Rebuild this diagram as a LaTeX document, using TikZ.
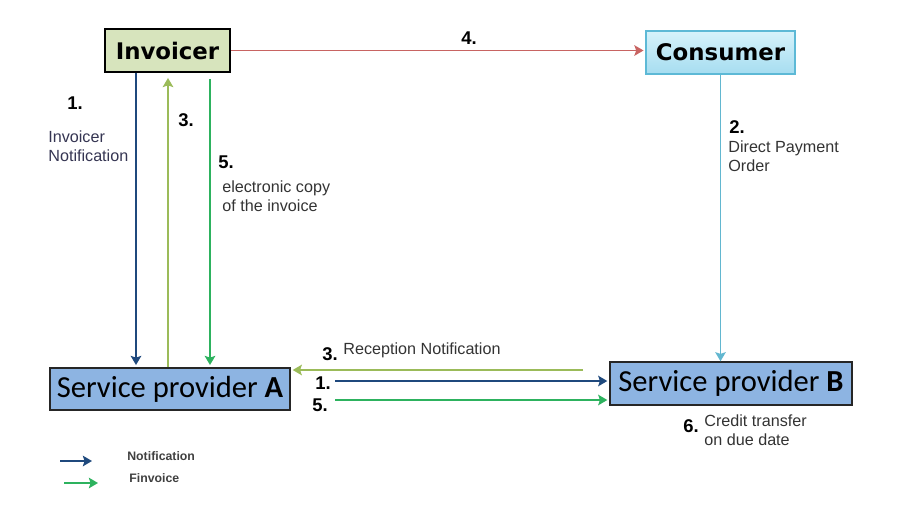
\documentclass[tikz,border=0pt]{standalone}
\usepackage{fontspec}
\setmainfont{Liberation Sans}
\newfontfamily\headfont{DejaVu Sans}
\newfontfamily\provfont{Carlito}
\usetikzlibrary{arrows.meta}

\definecolor{notifblue}{HTML}{1F497D}
\definecolor{recvgreen}{HTML}{9BBB59}
\definecolor{finvgreen}{HTML}{2DB25E}
\definecolor{invred}{HTML}{C86462}
\definecolor{orderblue}{HTML}{62B7D0}
\definecolor{invfill}{HTML}{D7E4BD}
\definecolor{provfill}{HTML}{8DB4E2}
\definecolor{consborder}{HTML}{5DB9D6}
\definecolor{constop}{HTML}{D6F2FB}
\definecolor{consbot}{HTML}{A6DDF0}
\definecolor{labeltext}{HTML}{353552}

\begin{document}
\begin{tikzpicture}[x=0.02cm, y=-0.02cm,
    arrowtip/.style={-{Stealth[length=5.2pt,width=6pt,inset=1pt]}},
    flow/.style={arrowtip, line width=1.1pt},
    notif/.style={flow, notifblue},
    recv/.style={flow, recvgreen},
    finv/.style={flow, finvgreen},
    actor/.style={draw=black, line width=1.1pt, inner sep=0pt, minimum height=0.86cm,
        font=\headfont\bfseries\fontsize{13}{15}\selectfont},
    provider/.style={draw=black!85, line width=1.1pt, fill=provfill, inner sep=0pt,
        minimum height=0.85cm, font=\provfont\fontsize{17.4}{20}\selectfont},
    num/.style={inner sep=0pt, font=\bfseries\fontsize{10.5}{12}\selectfont},
    note/.style={align=left, anchor=west, inner sep=0pt, text=black!80,
        font=\fontsize{9.2}{10.8}\selectfont},
    legend/.style={anchor=west, inner sep=0pt, text=black!75,
        font=\bfseries\fontsize{7}{8}\selectfont}]
    \useasboundingbox (0,0) rectangle (912,518);

    % Parties
    \node[actor, fill=invfill, minimum width=2.5cm] (Invoicer) at (167.5,50.5) {Invoicer};
    \node[actor, draw=consborder, line width=0.85pt, top color=constop, bottom color=consbot,
        minimum width=2.98cm] (Consumer) at (720.5,52.5) {Consumer};
    \node[provider, minimum width=4.8cm] (ProvA) at (170,389) {Service provider {\bfseries A}};
    \node[provider, minimum width=4.84cm] (ProvB) at (731,383.5) {Service provider {\bfseries B}};

    % 4. Invoicer to consumer
    \draw[flow, invred, line width=0.9pt, shorten >=1pt] (Invoicer.east) -- (Invoicer.east -| Consumer.west);
    \node[num] (numFour) at (469,38) {4.};

    % 2. Direct payment order
    \draw[flow, orderblue, line width=0.9pt] (Consumer.south) -- (Consumer.south |- ProvB.north);
    \node[num] (numTwo) at (737,127) {2.};
    \node[note] (noteOrder) at (728,156.5) {Direct Payment\\Order};

    % Invoicer <-> service provider A
    \coordinate (xNotif) at (136,0);
    \coordinate (xRecv) at (168,0);
    \coordinate (xFinv) at (210,0);
    \draw[notif, shorten >=1pt] (Invoicer.south -| xNotif) -- (ProvA.north -| xNotif);
    \draw[recv, shorten >=0.1cm] (ProvA.north -| xRecv) -- (Invoicer.south -| xRecv);
    \draw[finv, shorten <=0.12cm, shorten >=1pt] (Invoicer.south -| xFinv) -- (ProvA.north -| xFinv);
    \node[num] (numOneA) at (75,103) {1.};
    \node[note, text=labeltext] (noteNotif) at (48,146.5) {Invoicer\\Notification};
    \node[num] (numThreeA) at (186,120) {3.};
    \node[num] (numFiveA) at (226,162) {5.};
    \node[note] (noteCopy) at (222,196.5) {electronic copy\\of the invoice};

    % Service provider A <-> service provider B
    \coordinate (startRecv) at (583,370);
    \coordinate (startNotif) at (335,381);
    \coordinate (startFinv) at (335,400);
    \draw[recv, shorten >=1pt] (startRecv) -- (startRecv -| ProvA.east);
    \draw[notif, shorten >=1pt] (startNotif) -- (startNotif -| ProvB.west);
    \draw[finv, shorten >=1pt] (startFinv) -- (startFinv -| ProvB.west);
    \node[num] (numThreeB) at (330,354) {3.};
    \node[note] (noteRecv) at (343,350) {Reception Notification};
    \node[num] (numOneB) at (323,383) {1.};
    \node[num] (numFiveB) at (320,405) {5.};

    % 6. Credit transfer
    \node[num] (numSix) at (691,426) {6.};
    \node[note] (noteCredit) at (704,430) {Credit transfer\\on due date};

    % Legend
    \coordinate (keyNotif) at (60,461);
    \coordinate (keyFinv) at (64,483);
    \draw[notif, line width=1.4pt] (keyNotif) -- ++(32,0);
    \draw[finv, line width=1.4pt] (keyFinv) -- ++(34,0);
    \node[legend] (legNotif) at (127,456) {Notification};
    \node[legend] (legFinv) at (129,478) {Finvoice};
\end{tikzpicture}
\end{document}
